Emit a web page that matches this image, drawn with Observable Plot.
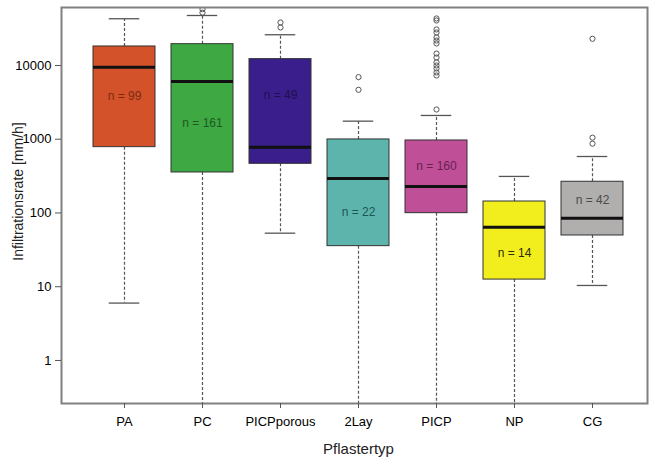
<!DOCTYPE html>
<html>
<head>
<meta charset="utf-8">
<script src="https://cdn.jsdelivr.net/npm/d3@7"></script>
<script src="https://cdn.jsdelivr.net/npm/@observablehq/plot@0.6"></script>
<style>
  html, body { margin: 0; padding: 0; background: #fff; }
  #chart { width: 651px; height: 459px; }
  svg { font-family: "Liberation Sans", Arial, sans-serif; }
</style>
</head>
<body>
<div id="chart"></div>
<script>
// ---- data ----
const categories = ["PA", "PC", "PICPporous", "2Lay", "PICP", "NP", "CG"];
const counts = [99, 161, 49, 22, 160, 14, 42];
const q1 = [781, 354, 464, 35.5, 99.4, 12.5, 49.5];
const median = [9480, 6070, 781, 294, 229, 64.2, 85];
const q3 = [18100, 19450, 12190, 993, 962, 143, 265];
const whiskerLow = [6.0, 0.1, 53.2, 0.1, 0.1, 0.1, 10.4];
const whiskerHigh = [43000, 47600, 26100, 1758, 2100, 313, 583];
const labelY = [3800, 1640, 3930, 103, 427, 28.2, 148];
const fillColors = ["#d4522a", "#3ea843", "#3a1f8c", "#5cb4ad", "#bf4f96", "#f2ee1e", "#b1aeae"];
const labelColors = ["#7a2a12", "#1d5a20", "#1c1050", "#1d5753", "#6a1f55", "#2e2c05", "#4a4a4a"];

const outlierCategory = ["PC", "PC", "PICPporous", "PICPporous", "2Lay", "2Lay",
  "PICP", "PICP", "PICP", "PICP", "PICP", "PICP", "PICP", "PICP", "PICP", "PICP", "PICP", "PICP", "PICP", "PICP", "PICP",
  "CG", "CG", "CG"];
const outlierValue = [52000, 58000, 38300, 32700, 6950, 4680,
  43400, 40700, 30800, 28000, 24000, 21800, 19900, 14500, 12800, 11000, 10000, 9100, 8040, 7310, 2530,
  23000, 1050, 870];

const yTicks = [1, 10, 100, 1000, 10000];

// ---- tables built from the arrays ----
const boxes = categories.map((c, i) => ({
  cat: c, n: counts[i], q1: q1[i], med: median[i], q3: q3[i],
  lo: whiskerLow[i], hi: whiskerHigh[i], ly: labelY[i],
  fill: fillColors[i], lc: labelColors[i]
}));
const outliers = outlierCategory.map((c, i) => ({cat: c, v: outlierValue[i]}));

const chart = Plot.plot({
  width: 651,
  height: 459,
  marginLeft: 61,
  marginRight: 4,
  marginTop: 7,
  marginBottom: 56,
  style: {fontFamily: "'Liberation Sans', Arial, sans-serif", background: "#fff"},
  x: {type: "band", domain: categories, range: [82.6, 634.4], paddingInner: 0.2, paddingOuter: 0.1, axis: null},
  y: {type: "log", domain: [0.261, 61100], axis: null},
  marks: [
    // whiskers
    Plot.ruleX(boxes, {x: "cat", y1: "q3", y2: "hi", stroke: "#555", strokeWidth: 1.2, strokeDasharray: "3,2", clip: true}),
    Plot.ruleX(boxes, {x: "cat", y1: "q1", y2: "lo", stroke: "#555", strokeWidth: 1.2, strokeDasharray: "3,2", clip: true}),
    // caps
    Plot.tickY(boxes, {x: "cat", y: "hi", stroke: "#555", strokeWidth: 1.3, insetLeft: 15.75, insetRight: 15.75, clip: true}),
    Plot.tickY(boxes, {x: "cat", y: "lo", stroke: "#555", strokeWidth: 1.3, insetLeft: 15.75, insetRight: 15.75, clip: true}),
    // boxes
    Plot.barY(boxes, {x: "cat", y1: "q1", y2: "q3", fill: d => d.fill, stroke: "#333", strokeWidth: 1}),
    // medians
    Plot.tickY(boxes, {x: "cat", y: "med", stroke: "#111", strokeWidth: 3}),
    // outliers
    Plot.dot(outliers, {x: "cat", y: "v", r: 2.6, stroke: "#555", strokeWidth: 1, fill: "none", clip: true}),
    // n labels
    Plot.text(boxes, {x: "cat", y: "ly", text: d => "n = " + d.n, fill: d => d.lc, fontSize: 12}),
    // frame
    Plot.frame({stroke: "#808080", strokeWidth: 2}),
    // axes
    Plot.axisY(yTicks, {tickSize: 6, tickPadding: 4, tickFormat: d => String(d), fontSize: 13, stroke: "#555", label: null}),
    Plot.axisX(categories, {tickSize: 5, tickPadding: 8, fontSize: 13, stroke: "#555", label: null}),
    // axis titles
    Plot.text(["Infiltrationsrate [mm/h]"], {frameAnchor: "left", textAnchor: "middle", lineAnchor: "middle", dx: -43, dy: -14, rotate: -90, fontSize: 14, fill: "#222"}),
    Plot.text(["Pflastertyp"], {frameAnchor: "bottom", textAnchor: "middle", lineAnchor: "middle", dx: 4, dy: 46, fontSize: 15, fill: "#222"})
  ]
});
document.getElementById("chart").appendChild(chart);
</script>
</body>
</html>
